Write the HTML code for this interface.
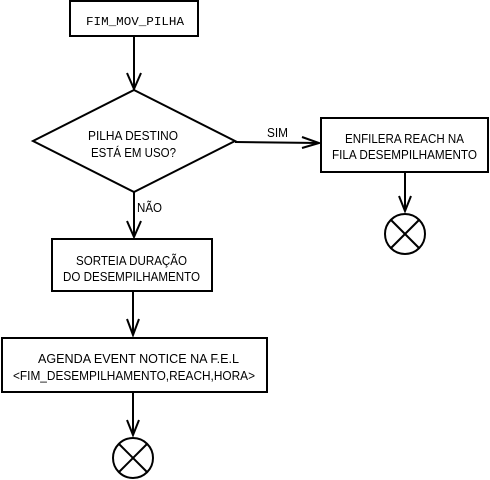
<!DOCTYPE html>
<html><head><meta charset="utf-8"><style>
html,body{margin:0;padding:0;background:#fff}
svg{display:block}
</style></head><body>
<svg width="490" height="480" viewBox="0 0 490 480" xmlns="http://www.w3.org/2000/svg">
<g fill="none" stroke="#000" stroke-width="2">
<rect x="70" y="1" width="128" height="35" fill="#fff"/>
<line x1="134" y1="36" x2="134" y2="89"/>
<polyline points="127,73 134,89 141,73"/>
<polygon points="134,90 235,141 134,192 33,141" fill="#fff"/>
<line x1="134" y1="192" x2="134" y2="237"/>
<polyline points="127,221 134,237 141,221"/>
<line x1="235" y1="142" x2="319" y2="143"/>
<polyline points="302,137 319,143 302,148"/>
<rect x="321" y="118" width="167" height="54" fill="#fff"/>
<line x1="405" y1="172" x2="405" y2="211"/>
<polyline points="399,196 405,211 411,196"/>
<circle cx="405" cy="234" r="20"/>
<line x1="391" y1="220" x2="419" y2="248"/><line x1="419" y1="220" x2="391" y2="248"/>
<rect x="52" y="239" width="160" height="52" fill="#fff"/>
<line x1="133" y1="291" x2="133" y2="335"/>
<polyline points="127,319 133,335 139,319"/>
<rect x="2" y="338" width="265" height="54" fill="#fff"/>
<line x1="133" y1="392" x2="133" y2="435"/>
<polyline points="127,420 133,435 139,420"/>
<circle cx="133" cy="458" r="20"/>
<line x1="119" y1="444" x2="147" y2="472"/><line x1="147" y1="444" x2="119" y2="472"/>
</g>
<g font-family="Liberation Sans, sans-serif" font-size="12.5" fill="#000">
<text font-family="Liberation Mono, monospace" font-size="12" x="86" y="25" textLength="98" lengthAdjust="spacingAndGlyphs">FIM_MOV_PILHA</text>
<text x="88" y="140" textLength="90" lengthAdjust="spacingAndGlyphs">PILHA DESTINO</text>
<text x="91" y="157" textLength="85" lengthAdjust="spacingAndGlyphs">ESTÁ EM USO?</text>
<text x="137" y="212" textLength="25" lengthAdjust="spacingAndGlyphs">NÃO</text>
<text x="267" y="137" textLength="21" lengthAdjust="spacingAndGlyphs">SIM</text>
<text x="345" y="143" textLength="119" lengthAdjust="spacingAndGlyphs">ENFILERA REACH NA</text>
<text x="332" y="159" textLength="145" lengthAdjust="spacingAndGlyphs">FILA DESEMPILHAMENTO</text>
<text x="76" y="265" textLength="111" lengthAdjust="spacingAndGlyphs">SORTEIA DURAÇÃO</text>
<text x="63" y="281" textLength="137" lengthAdjust="spacingAndGlyphs">DO DESEMPILHAMENTO</text>
<text x="38" y="363" textLength="201" lengthAdjust="spacingAndGlyphs">AGENDA EVENT NOTICE NA F.E.L</text>
<text x="13" y="380" textLength="242" lengthAdjust="spacingAndGlyphs">&lt;FIM_DESEMPILHAMENTO,REACH,HORA&gt;</text>
</g>
</svg>
</body></html>
